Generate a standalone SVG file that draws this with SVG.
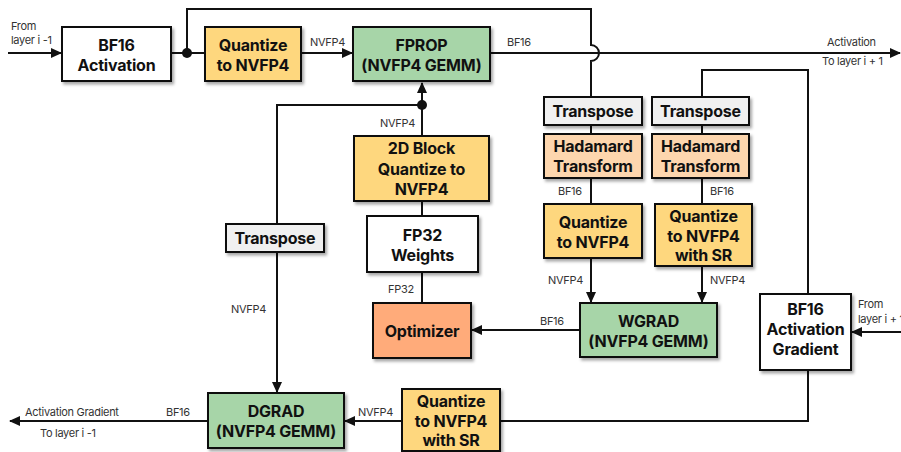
<svg xmlns="http://www.w3.org/2000/svg" width="901" height="452" viewBox="0 0 901 452">
<style>
.b{stroke:#111;stroke-width:2;filter:url(#sh)}
.t{font-family:Inter,"Liberation Sans",sans-serif;font-weight:700;font-size:16px;fill:#111;text-anchor:middle;letter-spacing:-0.2px}
.l{font-family:Inter,"Liberation Sans",sans-serif;font-size:11px;fill:#333;letter-spacing:-0.3px}
.c{fill:none;stroke:#111;stroke-width:2}
.y{fill:#FED77E}.g{fill:#A7D5A8}.p{fill:#FDD6AE}.o{fill:#FFAB7A}.w{fill:#fff}.gr{fill:#F0F0F0}
</style>
<defs>
<filter id="sh" x="-10%" y="-10%" width="130%" height="140%"><feDropShadow dx="2" dy="2.5" stdDeviation="1.5" flood-color="#000" flood-opacity="0.35"/></filter>
<marker id="a" markerUnits="userSpaceOnUse" markerWidth="12" markerHeight="12" refX="10" refY="5" orient="auto"><path d="M0,0 L11,5 L0,10 Z" fill="#111"/></marker>
</defs>
<g id="connectors">
<path class="c" d="M8 53 H61" marker-end="url(#a)"/>
<path class="c" d="M171 53 H205"/>
<path class="c" d="M187 53 V9 H591 V45 A8 8 0 0 1 591 61 V97"/>
<path class="c" d="M301 53 H352" marker-end="url(#a)"/>
<path class="c" d="M490 53 H900" marker-end="url(#a)"/>
<path class="c" d="M808 294 V70 H702 V97"/>
<path class="c" d="M591 125 V134 M591 178 V204"/>
<path class="c" d="M591 258 V302" marker-end="url(#a)"/>
<path class="c" d="M702 125 V134 M702 178 V204"/>
<path class="c" d="M702 266 V302" marker-end="url(#a)"/>
<path class="c" d="M808 370 V421 H500"/>
<path class="c" d="M402 421 H345" marker-end="url(#a)"/>
<path class="c" d="M208 421 H10" marker-end="url(#a)"/>
<path class="c" d="M277 252 V392" marker-end="url(#a)"/>
<path class="c" d="M277 224 V105 H422"/>
<path class="c" d="M422 136 V83" marker-end="url(#a)"/>
<path class="c" d="M422 201 V216 M422 272 V303"/>
<path class="c" d="M580 330 H472" marker-end="url(#a)"/>
<path class="c" d="M901 332 H852" marker-end="url(#a)"/>
<circle cx="187" cy="53" r="5" fill="#111"/>
<circle cx="422" cy="105" r="5" fill="#111"/>
<text class="l" x="11" y="30">From</text>
<text class="l" x="11" y="44">layer i -1</text>
<text class="l" x="310" y="46">NVFP4</text>
<text class="l" x="507" y="46">BF16</text>
<text class="l" x="827" y="46">Activation</text>
<text class="l" x="822" y="65">To layer i + 1</text>
<text class="l" x="558" y="195">BF16</text>
<text class="l" x="710" y="195">BF16</text>
<text class="l" x="548" y="284">NVFP4</text>
<text class="l" x="710" y="284">NVFP4</text>
<text class="l" x="380" y="127">NVFP4</text>
<text class="l" x="388" y="293">FP32</text>
<text class="l" x="231" y="313">NVFP4</text>
<text class="l" x="540" y="325">BF16</text>
<text class="l" x="858" y="308">From</text>
<text class="l" x="858" y="323">layer i + 1</text>
<text class="l" x="358" y="416">NVFP4</text>
<text class="l" x="166" y="416">BF16</text>
<text class="l" x="25" y="416">Activation Gradient</text>
<text class="l" x="40" y="437">To layer i -1</text>
</g>
<g id="bf16act"><rect class="b w" x="62" y="27" width="109" height="54"/><text class="t" x="116.5" y="50.5">BF16</text><text class="t" x="116.5" y="70.5">Activation</text></g>
<g id="quant1"><rect class="b y" x="205" y="27" width="96" height="54"/><text class="t" x="253" y="50.5">Quantize</text><text class="t" x="253" y="70.5">to NVFP4</text></g>
<g id="fprop"><rect class="b g" x="353" y="27" width="137" height="54"/><text class="t" x="421.5" y="50.5">FPROP</text><text class="t" x="421.5" y="70.5">(NVFP4 GEMM)</text></g>
<g id="block2d"><rect class="b y" x="354" y="136" width="135" height="65"/><text class="t" x="421.5" y="154">2D Block</text><text class="t" x="421.5" y="174.5">Quantize to</text><text class="t" x="421.5" y="194.5">NVFP4</text></g>
<g id="fp32w"><rect class="b w" x="367" y="216" width="111" height="56"/><text class="t" x="422.5" y="240.5">FP32</text><text class="t" x="422.5" y="260.5">Weights</text></g>
<g id="optimizer"><rect class="b o" x="373" y="303" width="98" height="55"/><text class="t" x="422" y="337">Optimizer</text></g>
<g id="transposeL"><rect class="b gr" x="226" y="224" width="98" height="28"/><text class="t" x="275" y="244">Transpose</text></g>
<g id="transpose1"><rect class="b gr" x="544" y="97" width="98" height="28"/><text class="t" x="593" y="117">Transpose</text></g>
<g id="transpose2"><rect class="b gr" x="652" y="97" width="97" height="28"/><text class="t" x="700.5" y="117">Transpose</text></g>
<g id="hadamard1"><rect class="b p" x="544" y="134" width="98" height="44"/><text class="t" x="593" y="152">Hadamard</text><text class="t" x="593" y="172">Transform</text></g>
<g id="hadamard2"><rect class="b p" x="652" y="134" width="97" height="44"/><text class="t" x="700.5" y="152">Hadamard</text><text class="t" x="700.5" y="172">Transform</text></g>
<g id="quant2"><rect class="b y" x="544" y="204" width="98" height="54"/><text class="t" x="593" y="227.5">Quantize</text><text class="t" x="593" y="247.5">to NVFP4</text></g>
<g id="quant3"><rect class="b y" x="655" y="204" width="97" height="62"/><text class="t" x="703.5" y="222">Quantize</text><text class="t" x="703.5" y="241.5">to NVFP4</text><text class="t" x="703.5" y="261">with SR</text></g>
<g id="wgrad"><rect class="b g" x="580" y="303" width="137" height="54"/><text class="t" x="648.5" y="326.5">WGRAD</text><text class="t" x="648.5" y="346.5">(NVFP4 GEMM)</text></g>
<g id="bf16grad"><rect class="b w" x="760" y="294" width="91" height="76"/><text class="t" x="805.5" y="315">BF16</text><text class="t" x="805.5" y="335">Activation</text><text class="t" x="805.5" y="355">Gradient</text></g>
<g id="quant4"><rect class="b y" x="402" y="389" width="98" height="62"/><text class="t" x="451" y="407">Quantize</text><text class="t" x="451" y="426.5">to NVFP4</text><text class="t" x="451" y="446">with SR</text></g>
<g id="dgrad"><rect class="b g" x="208" y="393" width="136" height="55"/><text class="t" x="276" y="416.5">DGRAD</text><text class="t" x="276" y="436.5">(NVFP4 GEMM)</text></g>
</svg>
